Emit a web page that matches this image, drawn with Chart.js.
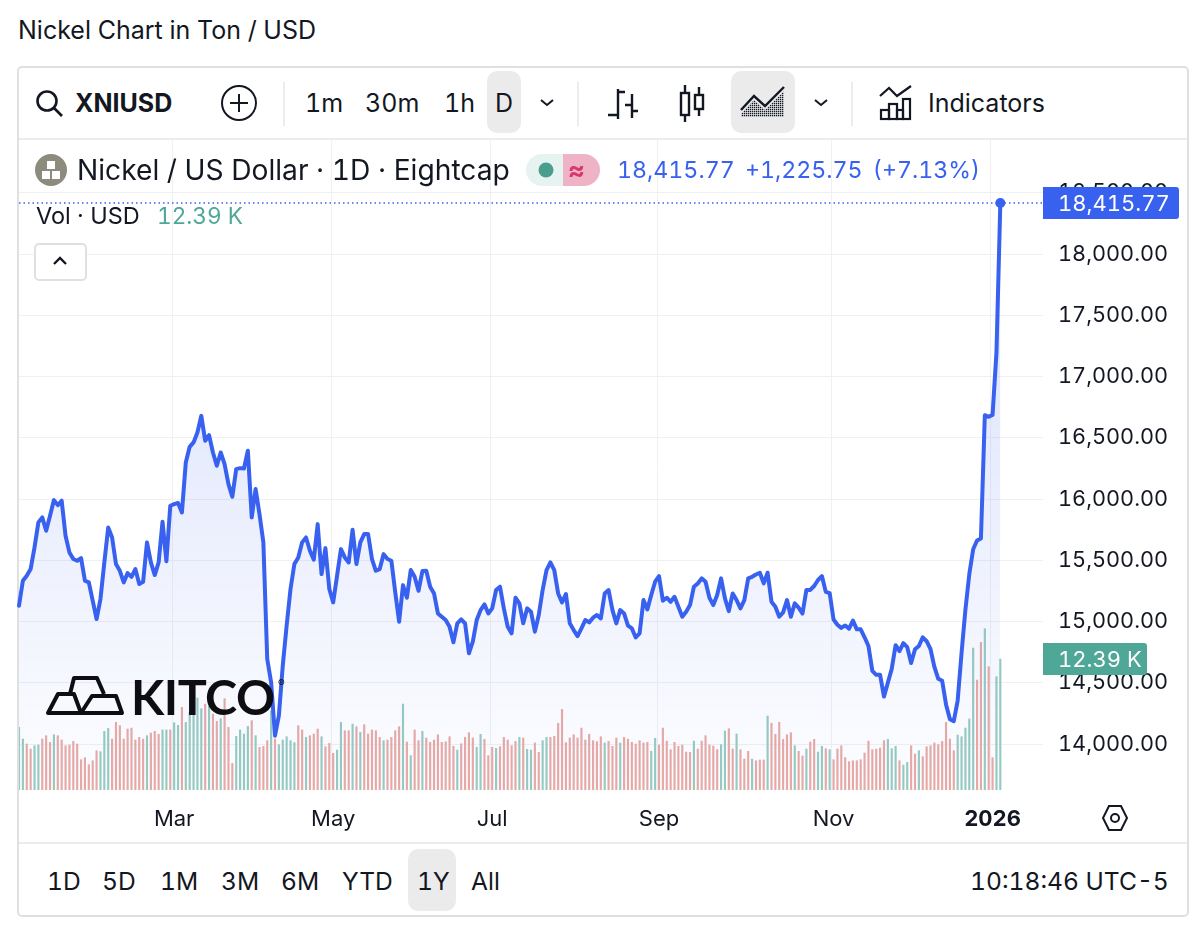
<!DOCTYPE html>
<html>
<head>
<meta charset="utf-8">
<title>Nickel Chart</title>
<script src="https://cdn.jsdelivr.net/npm/chart.js@4"></script>
<style>
html, body { margin: 0; padding: 0; background: #fff; }
body { width: 1200px; height: 930px; position: relative; overflow: hidden; font-family: Inter, sans-serif; color: #131722; font-variant-numeric: tabular-nums; }
.abs { position: absolute; white-space: nowrap; z-index: 3; }
.tb { font-size: 25px; line-height: 30px; top: 88px; }
.rg { font-size: 24.6px; line-height: 30px; top: 866px; }
.sel { position: absolute; background: #ebebeb; border-radius: 10px; z-index: 2; }
.sep { position: absolute; width: 2px; background: #ececec; top: 82px; height: 44px; z-index: 3; }
#frame { position: absolute; left: 17px; top: 66px; width: 1168px; height: 847px; border: 2px solid #e0e0e0; border-radius: 5px; z-index: 1; }
#hline1 { position: absolute; left: 19px; top: 138px; width: 1168px; height: 2px; background: #ececec; z-index: 3; }
#hline2 { position: absolute; left: 19px; top: 842px; width: 1168px; height: 2px; background: #ececec; z-index: 3; }
#wrap { position: absolute; left: 14px; top: 134px; width: 1174px; height: 709px; z-index: 2; }
svg { position: absolute; z-index: 3; overflow: visible; }
</style>
</head>
<body>
<div class="abs" style="left:18px;top:15px;font-size:25px;line-height:30px;">Nickel Chart in Ton / USD</div>
<div id="frame"></div>
<div id="hline1"></div>
<div id="hline2"></div>

<!-- toolbar -->
<svg style="left:36px;top:90px" width="28" height="28" fill="none" stroke="#131722" stroke-width="2.6"><circle cx="11" cy="11" r="9.5"/><path d="M18 18l8 8"/></svg>
<div class="abs tb" style="left:75px;font-weight:700;">XNIUSD</div>
<svg style="left:221px;top:85px" width="36" height="36" fill="none" stroke="#131722" stroke-width="2"><circle cx="18" cy="18" r="17"/><path d="M18 9v18M9 18h18"/></svg>
<div class="sep" style="left:283px"></div>
<div class="abs tb" style="left:305px">1m</div>
<div class="abs tb" style="left:365px">30m</div>
<div class="abs tb" style="left:444px">1h</div>
<div class="sel" style="left:487px;top:71px;width:34px;height:62px"></div>
<div class="abs tb" style="left:495px">D</div>
<svg style="left:539px;top:98px" width="16" height="10" fill="none" stroke="#131722" stroke-width="2"><path d="M2 2l6 5 6-5"/></svg>
<div class="sep" style="left:577px"></div>
<svg style="left:608px;top:86px" width="30" height="34" fill="none" stroke="#131722" stroke-width="2.4"><path d="M10 3v30M10 6h7M0 29h10M24 8v24M17 19h7M24 25h6"/></svg>
<svg style="left:679px;top:84px" width="28" height="38" fill="none" stroke="#131722" stroke-width="2.4"><rect x="2" y="9" width="8" height="22"/><path d="M6 1v8M6 31v7"/><rect x="16" y="11" width="8" height="14"/><path d="M20 3v8M20 25v7"/></svg>
<div class="sel" style="left:731px;top:71px;width:64px;height:62px"></div>
<svg style="left:740px;top:85px" width="46" height="34"><defs><pattern id="dots" width="2" height="2" patternUnits="userSpaceOnUse"><rect width="1.3" height="1.3" fill="#131722"/></pattern></defs><path d="M1 29L14 15L25 25L44 6V32H1z" fill="url(#dots)"/><path d="M1 25L14 11L25 21L44 2" fill="none" stroke="#131722" stroke-width="2.4"/></svg>
<svg style="left:813px;top:98px" width="16" height="10" fill="none" stroke="#131722" stroke-width="2"><path d="M2 2l6 5 6-5"/></svg>
<div class="sep" style="left:851px"></div>
<svg style="left:879px;top:85px" width="34" height="36" fill="none" stroke="#131722" stroke-width="2.2"><path d="M1 11L10 3L18 11L32 1"/><rect x="2" y="25" width="8" height="9"/><rect x="10" y="19" width="8" height="15"/><rect x="18" y="25" width="6" height="9"/><rect x="24" y="14" width="7" height="20"/></svg>
<div class="abs tb" style="left:928px">Indicators</div>

<!-- legend row -->
<svg style="left:35px;top:154px" width="32" height="32"><circle cx="16" cy="16" r="16" fill="#8c8b7e"/><rect x="12" y="7" width="8" height="8" fill="#fff"/><rect x="7" y="17" width="8" height="8" fill="#fff"/><rect x="17" y="17" width="8" height="8" fill="#fff"/></svg>
<div class="abs" style="left:77px;top:152px;font-size:28.2px;line-height:36px;">Nickel / US Dollar · 1D · Eightcap</div>
<div class="abs" style="left:526px;top:154px;width:37px;height:32px;background:#e6f3f0;border-radius:16px 0 0 16px;"></div>
<div class="abs" style="left:563px;top:154px;width:37px;height:32px;background:#efb3c6;border-radius:0 16px 16px 0;"></div>
<svg style="left:538px;top:162px" width="16" height="16"><circle cx="8" cy="8" r="7.5" fill="#4a9e8e"/></svg>
<div class="abs" style="left:568px;top:153px;font-size:26px;line-height:34px;color:#d9386e;font-weight:700;">≈</div>
<div class="abs" style="left:617px;top:155px;font-size:23.2px;line-height:30px;color:#3861f0;word-spacing:4px;">18,415.77 +1,225.75 (+7.13%)</div>
<div class="abs" style="left:36px;top:202px;font-size:23.5px;line-height:28px;">Vol · USD</div>
<div class="abs" style="left:157px;top:202px;font-size:22.6px;line-height:28px;color:#4fa797;">12.39 K</div>
<div class="abs" style="left:34px;top:243px;width:49px;height:34px;border:2px solid #e0e0e0;border-radius:5px;background:#fff;"></div>
<svg style="left:52px;top:256px" width="16" height="10" fill="none" stroke="#131722" stroke-width="2.4"><path d="M2 8l6-6 6 6"/></svg>

<!-- logo -->
<svg style="left:0;top:0" width="1" height="1" fill="none" stroke="#0d0d12" stroke-width="4" stroke-linejoin="round"><path d="M48 713L58 694H74L81 713Z"/><path d="M70 694L74 678H97L104 694"/><path d="M81 713L92 696H116L122 713Z"/></svg>
<div class="abs" style="left:131px;top:668px;font-family:Lato,sans-serif;font-weight:700;font-size:48.5px;line-height:56px;color:#0d0d12;letter-spacing:-0.5px;">KITCO</div>
<div class="abs" style="left:278px;top:677px;font-size:10px;line-height:12px;color:#0d0d12;">®</div>

<!-- settings -->
<svg style="left:1101px;top:804px" width="28" height="28" fill="none" stroke="#131722" stroke-width="2"><path d="M8 2H20L26 14L20 26H8L2 14Z"/><circle cx="14" cy="14" r="4"/></svg>

<!-- range row -->
<div class="abs rg" style="left:47px">1D</div>
<div class="abs rg" style="left:102px">5D</div>
<div class="abs rg" style="left:160px">1M</div>
<div class="abs rg" style="left:221px">3M</div>
<div class="abs rg" style="left:281px">6M</div>
<div class="abs rg" style="left:342px">YTD</div>
<div class="sel" style="left:408px;top:849px;width:48px;height:62px"></div>
<div class="abs rg" style="left:417px">1Y</div>
<div class="abs rg" style="left:471px">All</div>
<div class="abs rg" style="left:970px">10:18:46 UTC-5</div>

<div id="wrap"><canvas id="myChart" width="1174" height="709"></canvas></div>

<script>
// DATA
const monthLabels = ['Mar', 'May', 'Jul', 'Sep', 'Nov', '2026'];
const monthIndex = [40, 81, 122, 165, 210, 251];
const categoryCount = 265;
const priceTicks = [14000, 14500, 15000, 15500, 16000, 16500, 17000, 17500, 18000, 18500];

const prices = [
  15129,15333,15374,15428,15605,15809,15850,15741,15863,15991,
  15950,15986,15700,15564,15510,15496,15518,15333,15319,15170,
  15020,15183,15482,15768,15686,15469,15414,15319,15395,
  15365,15428,15306,15325,15646,15482,15379,15482,15814,15491,
  15945,15958,15967,15890,16298,16426,16462,16543,16679,16475,
  16521,16380,16271,16380,16285,16122,16018,16244,16252,16249,
  16394,15850,16081,15877,15646,14694,14503,14068,14231,14639,
  14966,15265,15469,15523,15646,15686,15578,15504,15795,15387,
  15599,15265,15156,15374,15591,15523,15482,15749,15469,
  15646,15714,15714,15510,15414,15428,15550,15510,15496,15238,
  14998,15297,15194,15420,15365,15251,15412,15414,15284,15229,
  15066,15039,15012,14957,14830,14985,15017,14985,14740,14835,
  15012,15093,15140,15066,15107,15257,15284,15107,14957,
  14903,15194,15148,14985,15107,15080,14917,15053,15257,15420,
  15482,15420,15229,15156,15224,14985,14930,14881,14944,15012,
  14993,15031,15053,15025,15229,15257,15093,14985,15093,15066,
  14966,14944,14870,14903,15175,15099,15216,15325,15371,15170,
  15194,15161,15202,15121,15039,15080,15134,15284,15311,15352,
  15325,15194,15134,15216,15352,15189,15085,15229,15175,
  15107,15175,15352,15365,15384,15398,15311,15398,15161,15121,
  15039,15074,15175,15039,15148,
  15113,15065,15258,15258,15290,15339,15371,15242,15232,15016,
  14974,14948,14968,14942,15007,14936,14936,14871,14800,14597,
  14565,14565,14387,14500,14613,14807,14758,14823,14790,
  14661,14774,14800,14871,14839,14774,14629,14532,14516,14323,
  14203,14187,14355,14742,15097,15387,15590,15661,15678,16684,
  16671,16687,17194,18415.77
];

// volume in thousands
const volumes = [
  5.93,4.82,4.35,3.88,4.19,4.26,4.82,5.14,4.51,5.23,
  5.14,4.73,4.19,4.26,4.60,4.35,2.87,3.06,2.40,2.77,
  3.72,3.63,5.55,5.83,4.82,6.40,6.09,4.82,5.77,5.86,
  4.73,4.98,4.82,5.14,5.39,5.55,5.27,5.68,5.68,5.68,
  6.37,6.12,7.82,6.40,7.35,7.82,8.70,7.69,8.13,7.91,
  7.19,6.50,6.75,8.64,5.93,2.52,5.08,5.68,5.30,6.02,
  6.56,5.14,4.04,4.13,4.67,7.50,4.82,4.29,4.73,5.04,
  4.67,4.48,6.09,5.68,4.98,5.14,5.30,5.77,5.04,4.10,
  4.41,3.47,3.78,6.40,5.61,5.61,6.24,5.99,5.45,6.18,
  5.30,5.68,5.61,4.98,4.67,4.73,4.98,5.61,5.99,
  8.13,4.54,3.25,5.68,4.67,5.55,4.92,4.51,4.73,5.23,
  4.51,4.57,5.04,4.13,3.78,4.38,4.98,5.42,4.92,4.04,
  5.27,4.79,3.25,4.04,3.94,4.10,4.98,4.73,4.19,4.60,
  4.98,4.92,3.85,3.78,4.45,3.56,4.67,4.98,4.98,5.08,
  6.31,7.63,4.48,4.92,5.23,4.92,5.86,4.73,5.27,4.67,4.57,
  5.04,4.45,4.60,4.13,4.92,4.45,4.98,4.82,4.51,4.35,
  4.67,4.45,4.51,3.66,4.89,4.26,5.86,4.63,3.82,4.51,
  4.13,4.26,3.59,3.56,4.63,3.88,4.63,5.14,4.26,4.16,
  3.82,4.29,5.58,5.80,3.88,5.30,3.82,2.93,3.66,2.93,
  2.77,2.84,2.84,7.00,6.31,5.27,6.40,4.79,5.23,5.42,
  4.19,3.66,3.22,3.88,4.54,4.79,3.59,4.13,3.91,3.82,
  2.87,3.88,4.19,3.06,2.68,2.77,2.77,2.87,3.50,4.63,
  3.82,3.88,3.97,4.67,4.79,3.91,4.13,2.77,
  2.36,2.62,4.19,3.41,3.72,3.15,4.10,4.19,4.45,4.29,
  4.60,6.40,4.82,3.72,5.20,5.04,5.86,6.72,13.43,10.40,
  13.97,15.26,11.67,3.06,10.72,12.39
];

// 1 = green bar, 0 = red bar
const volumeUp = [
  1,1,0,0,1,1,0,0,0,1, 0,0,0,0,0,0,0,0,0,0,
  0,1,1,1,0,0,0,0,0,0, 0,0,0,1,0,0,0,1,1,0,
  1,1,0,1,1,1,1,1,0,1, 0,0,1,0,0,0,1,1,1,1,
  0,1,0,0,0,1,0,1,1,1, 1,1,0,0,1,0,0,0,1,0,
  0,0,1,1,0,0,1,0,1,0, 0,0,0,0,1,0,0,0,0,
  1,0,1,0,0,1,0,0,0,0, 0,0,0,0,1,0,0,0,0,1,
  1,0,0,0,1,0,0,0,0,0, 1,0,1,1,0,0,1,1,0,0,
  0,0,0,0,0,0,0,0,0,0,0,
  0,1,0,0,0,1,0,0,0,0, 0,0,0,1,1,0,0,0,0,0,
  0,0,0,0,1,0,0,0,0,0, 0,1,1,0,0,1,0,0,0,1,
  0,0,0,1,0,0,0,0,0,0, 1,0,0,1,0,0,1,1,0,1,
  0,0,0,0,0,0,0,0,0,0, 0,0,0,0,1,1,1,0,
  1,1,0,0,1,0,0,0,0,0, 0,0,0,0,1,1,1,1,1,0,
  0,1,0,0,1,1
];

const lineBlue = '#3861f0';
const tagGreen = '#4fa797';
const lastVolumeText = '12.39 K';

const categories = [];
for (let i = 0; i < categoryCount; i++) categories.push('');
monthIndex.forEach((idx, i) => { categories[idx] = monthLabels[i]; });

function money(v) {
  return v.toLocaleString('en-US', { minimumFractionDigits: 2, maximumFractionDigits: 2 });
}

// chart.js reserves room for half a tick label at the axis ends, the reference has none
function noAxisPadding(axis) {
  axis.paddingLeft = axis.paddingRight = axis.paddingTop = axis.paddingBottom = 0;
}

// dotted last price line and the two axis tags
const lastValueTags = {
  id: 'lastValueTags',
  afterDatasetsDraw(chart) {
    const ctx = chart.ctx, area = chart.chartArea;
    const last = prices[prices.length - 1];
    const yP = chart.scales.y.getPixelForValue(last);
    const yV = chart.scales.vol.getPixelForValue(volumes[volumes.length - 1]);
    ctx.save();
    ctx.strokeStyle = lineBlue;
    ctx.lineWidth = 1.5;
    ctx.setLineDash([1.5, 3]);
    ctx.beginPath();
    ctx.moveTo(area.left, yP);
    ctx.lineTo(area.right, yP);
    ctx.stroke();
    ctx.setLineDash([]);
    ctx.font = '22px Inter';
    ctx.textBaseline = 'middle';
    ctx.textAlign = 'left';

    ctx.fillStyle = lineBlue;
    ctx.beginPath();
    ctx.roundRect(area.right, yP - 16, 136, 32, [0, 3, 3, 0]);
    ctx.fill();
    ctx.fillStyle = '#fff';
    ctx.fillText(money(last), area.right + 15, yP + 1);

    ctx.fillStyle = tagGreen;
    ctx.beginPath();
    ctx.roundRect(area.right, yV - 16, 104, 32, [0, 3, 3, 0]);
    ctx.fill();
    ctx.fillStyle = '#fff';
    ctx.fillText(lastVolumeText, area.right + 15, yV + 1);
    ctx.restore();
  }
};

const ctx = document.getElementById('myChart').getContext('2d');
const myChart = new Chart(ctx, {
  data: {
    labels: categories,
    datasets: [
      {
        type: 'line',
        order: 1,
        yAxisID: 'y',
        data: prices,
        borderColor: lineBlue,
        borderWidth: 4,
        borderJoinStyle: 'round',
        borderCapStyle: 'round',
        tension: 0,
        fill: 'start',
        backgroundColor(c) {
          const a = c.chart.chartArea;
          if (!a) return 'rgba(56,97,240,0.1)';
          const g = c.chart.ctx.createLinearGradient(0, a.top, 0, a.bottom);
          g.addColorStop(0, 'rgba(56,97,240,0.22)');
          g.addColorStop(1, 'rgba(56,97,240,0.01)');
          return g;
        },
        pointRadius: c => c.dataIndex === prices.length - 1 ? 5 : 0,
        pointBackgroundColor: lineBlue,
        pointBorderWidth: 0
      },
      {
        type: 'bar',
        order: 2,
        yAxisID: 'vol',
        data: volumes,
        barThickness: 1.5,
        backgroundColor: volumeUp.map(u => u ? '#97cbc1' : '#e9aaa5')
      }
    ]
  },
  plugins: [lastValueTags],
  options: {
    responsive: false,
    animation: false,
    layout: { padding: 0 },
    plugins: { legend: { display: false }, tooltip: { enabled: false } },
    scales: {
      x: {
        offset: false,
        border: { display: false },
        grid: {
          drawTicks: false,
          color: c => (c.tick && categories[c.tick.value]) ? '#f0f0f3' : 'rgba(0,0,0,0)'
        },
        ticks: {
          autoSkip: false,
          maxRotation: 0,
          padding: 16,
          color: '#131722',
          font: c => ({ family: 'Inter', size: 22, weight: categories[c.index] === '2026' ? '700' : '400' }),
          callback: (v, i) => categories[i]
        },
        afterFit(axis) { axis.height = 53; noAxisPadding(axis); }
      },
      y: {
        position: 'right',
        min: 13624.5,
        max: 18938.8,
        border: { display: false },
        grid: { drawTicks: false, color: '#f0f0f3' },
        afterBuildTicks(axis) { axis.ticks = priceTicks.map(v => ({ value: v })); },
        ticks: {
          padding: 15,
          color: '#131722',
          font: { family: 'Inter', size: 21.7 },
          callback: v => money(v)
        },
        afterFit(axis) { axis.width = 145; noAxisPadding(axis); }
      },
      vol: {
        display: false,
        min: 0,
        max: 61.6
      }
    }
  }
});
</script>
</body>
</html>
